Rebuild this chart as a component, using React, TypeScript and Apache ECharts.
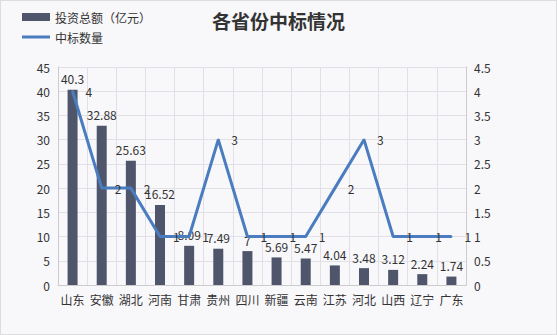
import React, { useEffect, useRef } from "react";
import * as echarts from "echarts";

const categories = ["山东", "安徽", "湖北", "河南", "甘肃", "贵州", "四川", "新疆", "云南", "江苏", "河北", "山西", "辽宁", "广东"];
const investment = [40.3, 32.88, 25.63, 16.52, 8.09, 7.49, 7, 5.69, 5.47, 4.04, 3.48, 3.12, 2.24, 1.74];
const bidCount = [4, 2, 2, 1, 1, 3, 1, 1, 1, 2, 3, 1, 1, 1];
const leftTicks = { min: 0, max: 45, interval: 5 };
const rightTicks = { min: 0, max: 4.5, interval: 0.5 };

const FONT = "'Noto Sans CJK SC', 'Noto Sans', sans-serif";

export default function App() {
  const ref = useRef<HTMLDivElement>(null);
  useEffect(() => {
    document.body.style.margin = "0";
    const chart = echarts.init(ref.current!, null, { renderer: "svg" });
    chart.setOption({
      animation: false,
      backgroundColor: "#f8f7fa",
      textStyle: { fontFamily: FONT, color: "#333" },
      title: {
        text: "各省份中标情况",
        left: "center",
        top: 5,
        textStyle: { fontSize: 19, fontWeight: "bold", color: "#333", fontFamily: FONT },
      },
      legend: {
        orient: "vertical",
        left: 16,
        top: 5,
        itemWidth: 28,
        itemHeight: 8,
        itemGap: 8,
        symbolKeepAspect: true,
        textStyle: { fontSize: 12, color: "#333", fontFamily: FONT },
        data: [
          { name: "投资总额（亿元）", icon: "rect" },
          { name: "中标数量", icon: "path://M0,0 H28 V3 H0 Z" },
        ],
      },
      grid: { left: 57, right: 90, top: 66, bottom: 49, containLabel: false },
      xAxis: {
        type: "category",
        data: categories,
        boundaryGap: true,
        axisLine: { lineStyle: { color: "#ccc" } },
        axisTick: { show: false },
        axisLabel: { color: "#333", fontSize: 12, fontFamily: FONT, interval: 0, margin: 8 },
        splitLine: { show: true, lineStyle: { color: "#e2e0e6" } },
      },
      yAxis: [
        {
          type: "value",
          ...leftTicks,
          axisLine: { show: true, lineStyle: { color: "#ccc" } },
          axisTick: { show: false },
          axisLabel: { color: "#333", fontSize: 12, fontFamily: FONT },
          splitLine: { show: true, lineStyle: { color: "#e2e0e6" } },
        },
        {
          type: "value",
          ...rightTicks,
          axisLine: { show: true, lineStyle: { color: "#ccc" } },
          axisTick: { show: false },
          axisLabel: { color: "#333", fontSize: 12, fontFamily: FONT },
          splitLine: { show: false },
        },
      ],
      series: [
        {
          name: "投资总额（亿元）",
          type: "bar",
          data: investment,
          barWidth: 10,
          itemStyle: { color: "#4f566b" },
          label: { show: true, position: "top", color: "#333", fontSize: 12, fontFamily: FONT },
        },
        {
          name: "中标数量",
          type: "line",
          yAxisIndex: 1,
          data: bidCount,
          symbol: "circle",
          symbolSize: 2,
          itemStyle: { color: "#4a7dbf" },
          lineStyle: { color: "#4a7dbf", width: 3 },
          label: { show: true, position: "right", distance: 12, color: "#333", fontSize: 12, fontFamily: FONT },
        },
      ],
    });
    return () => chart.dispose();
  }, []);
  return (
    <div
      ref={ref}
      style={{ width: 557, height: 335, boxSizing: "border-box", border: "1px solid #ddd" }}
    />
  );
}
